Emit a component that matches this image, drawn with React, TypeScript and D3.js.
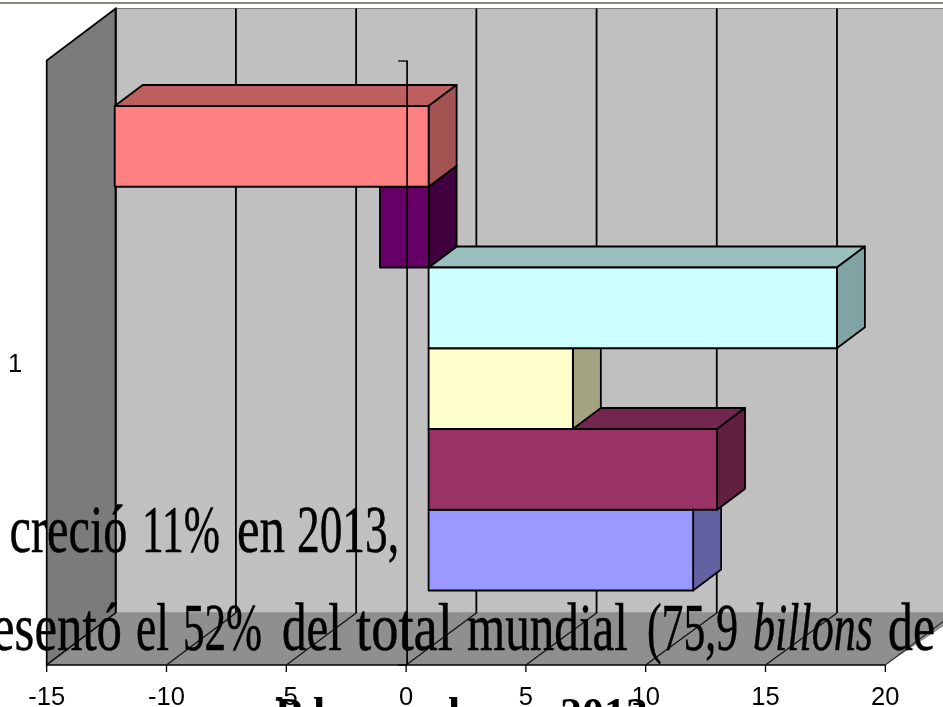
import React from "react";
import * as d3 from "d3";

const W = 943, H = 707;
const seriesValues = [-13.1, -2.03, 17.04, 6.02, 12.04, 11.04];
const faceColors = ["#ff8080", "#660066", "#ccffff", "#ffffcc", "#993366", "#9999ff"];
const topColors = ["#bf6060", "#4d004d", "#99bfbf", "#bfbf99", "#732650", "#7373bf"];
const sideColors = ["#a35252", "#400040", "#82a3a3", "#a3a382", "#622040", "#6262a3"];
const xTicks = [-15, -10, -5, 0, 5, 10, 15, 20];
const categories = ["1"];

const x = d3.scaleLinear().domain([-15, 20]).range([46.7, 885.3]);
const backX = d3.scaleLinear().domain([-15, 15]).range([115.7, 837]);
const catY = d3.scaleBand().domain(categories).range([60, 665]);
const barY = d3.scaleBand<number>().domain(d3.range(seriesValues.length)).range([106, 590.5]);
const depthY = 52;
const barFrontDx = 22.5, barDx = 28, barDy = 21;
const pts = (a: number[][]) => a.map(p => p.join(",")).join(" ");
const serif = "'Liberation Serif', serif";
const sans = "'Liberation Sans', Arial, sans-serif";
const grid = "#000";

function Word({ x, w, y, italic, children }: { x: number; w: number; y: number; italic?: boolean; children: string }) {
  return (
    <text x={x} y={y} fontFamily={serif} fontSize={68} fontStyle={italic ? "italic" : "normal"} fill="#000" stroke="#000" strokeWidth={0.5} textLength={w} lengthAdjust="spacingAndGlyphs">{children}</text>
  );
}

export default function App() {
  const order = d3.range(seriesValues.length).reverse();
  const x0 = x(-15), x1 = x(20), yT = 60.5, yB = 665;
  const bx0 = backX(-15);
  return (
    <svg width={W} height={H} viewBox={`0 0 ${W} ${H}`} style={{ position: "fixed", left: 0, top: 0, background: "#fff" }}>
      <g style={{ filter: "blur(0.3px)" }}>
        <rect x={0} y={2} width={W} height={2} fill="#88857a" />
        <polygon points={pts([[bx0, yT - depthY], [W + 20, yT - depthY], [W + 20, yB - depthY], [bx0, yB - depthY]])} fill="#c0c0c0" stroke="#777" strokeWidth={1} />
        <polygon points={pts([[x0, yT], [bx0, yT - depthY], [bx0, yB - depthY], [x0, yB]])} fill="#7b7b7b" stroke={grid} strokeWidth={1.7} />
        <polygon points={pts([[x0, yB], [bx0, yB - depthY], [W + 20, yB - depthY], [x1, yB]])} fill="#8f8f8f" stroke="none" />
        <line x1={x0} x2={x1} y1={yB} y2={yB} stroke={grid} strokeWidth={1.7} />
        <line x1={x1} x2={W} y1={yB} y2={yB - (W - x1) * depthY / 69} stroke="#333" strokeWidth={1.2} />
        {xTicks.map(t => (
          <g key={t}>
            {t < 20 && <line x1={backX(t)} x2={backX(t)} y1={yT - depthY} y2={yB - depthY} stroke={grid} strokeWidth={1.8} />}
            {t < 20 && <line x1={x(t)} x2={backX(t)} y1={yB} y2={yB - depthY} stroke="#111" strokeWidth={1.3} />}
            <line x1={x(t)} x2={x(t)} y1={yB} y2={yB + 7} stroke={grid} strokeWidth={1.3} />
            <text x={x(t)} y={705} textAnchor="middle" fontFamily={sans} fontSize={25.5} fill="#000">{t}</text>
          </g>
        ))}
        {order.map(i => {
          const y0 = barY(i)!, h = barY.bandwidth();
          const base = x(0) + barFrontDx;
          const end = base + seriesValues[i] * (x(1) - x(0));
          const l = Math.min(base, end), r = Math.max(base, end);
          return (
            <g key={i} stroke="#000" strokeWidth={1.8} strokeLinejoin="round">
              <polygon points={pts([[l, y0], [l + barDx, y0 - barDy], [r + barDx, y0 - barDy], [r, y0]])} fill={topColors[i]} />
              <polygon points={pts([[r, y0], [r + barDx, y0 - barDy], [r + barDx, y0 + h - barDy], [r, y0 + h]])} fill={sideColors[i]} />
              <rect x={l} y={y0} width={r - l} height={h} fill={faceColors[i]} />
            </g>
          );
        })}
        <line x1={x(0) + 1} x2={x(0) + 1} y1={yT} y2={yB} stroke={grid} strokeWidth={1.7} />
        <line x1={x(0) - 8} x2={x(0) + 1} y1={yT + 0.5} y2={yT + 0.5} stroke={grid} strokeWidth={1.3} />
        <line x1={x(0) - 8} x2={x(0) + 1} y1={yB} y2={yB} stroke={grid} strokeWidth={1.3} />
        <text x={15} y={catY(categories[0])! + catY.bandwidth() / 2 + 9} textAnchor="middle" fontFamily={sans} fontSize={25.5} fill="#000">{categories[0]}</text>
        <Word x={9.5} w={118} y={552}>creció</Word>
        <Word x={142} w={78} y={552}>11%</Word>
        <Word x={237} w={48} y={552}>en</Word>
        <Word x={297} w={102} y={552}>2013,</Word>
        <Word x={-8} w={130} y={650}>esentó</Word>
        <Word x={136} w={33} y={650}>el</Word>
        <Word x={183} w={79} y={650}>52%</Word>
        <Word x={282} w={60} y={650}>del</Word>
        <Word x={356} w={97} y={650}>total</Word>
        <Word x={467} w={161} y={650}>mundial</Word>
        <Word x={647} w={91} y={650}>(75,9</Word>
        <Word x={753} w={120} y={650} italic>billons</Word>
        <Word x={888} w={47} y={650}>de</Word>
        <text x={275} y={728} fontFamily={serif} fontSize={44} fontWeight="bold" fill="#000">P</text>
        <text x={313} y={728} fontFamily={serif} fontSize={44} fontWeight="bold" fill="#000">l</text>
        <text x={448} y={728} fontFamily={serif} fontSize={44} fontWeight="bold" fill="#000">l</text>
        <text x={560} y={728} fontFamily={serif} fontSize={44} fontWeight="bold" fill="#000">2013</text>
      </g>
    </svg>
  );
}
